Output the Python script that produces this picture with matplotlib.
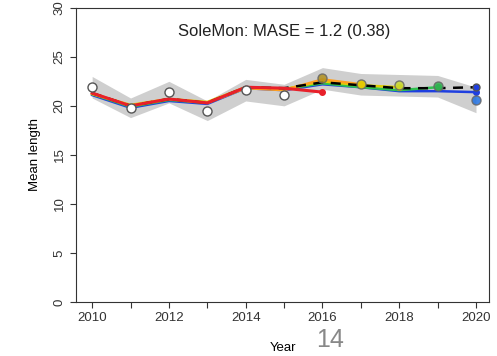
import numpy as np
import matplotlib
matplotlib.use("Agg")
import matplotlib.pyplot as plt

plt.rcParams["font.family"] = ["Liberation Sans", "DejaVu Sans"]

years = np.arange(2010, 2021)
obs = [21.9, 19.8, 21.4, 19.5, 21.6, 21.1, 22.8, 22.2, 22.1, 22.0, 20.6]
obs_se = [1.1, 1.0, 1.1, 1.0, 1.1, 1.1, 1.1, 1.1, 1.1, 1.1, 1.3]

# reference run expected values
ref = [21.3, 20.0, 20.7, 20.3, 21.9, 21.8, 22.4, 22.1, 21.8, 21.8, 21.9]

# retrospective peels: expected values from 2010 up to the predicted year
peel_vals = [
    [21.3, 20.0, 20.7, 20.3, 21.9, 21.8, 21.4],
    [21.3, 20.0, 20.7, 20.3, 21.8, 21.6, 22.7, 22.2],
    [21.2, 20.1, 20.7, 20.4, 21.9, 21.7, 22.5, 22.1, 21.9],
    [21.2, 19.9, 20.6, 20.3, 21.9, 21.7, 22.3, 21.9, 21.6, 21.9],
    [21.1, 19.8, 20.5, 20.2, 21.8, 21.6, 22.2, 21.9, 21.5, 21.5, 21.4],
]
peel_cols = ["#e8202a", "#ffa020", "#e0d000", "#30c050", "#1f3fe0"]
obs_cols = ["#b09020", "#e0d000", "#c8d830", "#30b050", "#1f6fe0"]

title = "SoleMon: MASE = 1.2 (0.38)"

fig = plt.figure(figsize=(4.97, 3.56), dpi=100)
ax = fig.add_axes([0.153, 0.152, 0.831, 0.826])

obs = np.array(obs)
se = np.array(obs_se)
ax.fill_between(years, obs - se, obs + se, color="#cfcfcf", lw=0, zorder=1)

# reference run: above the later peels, below the first one
ax.plot(years, ref, color="black", lw=1.8, ls=(0, (4, 3)), zorder=4.8)

for i in reversed(range(len(peel_vals))):
    vals = peel_vals[i]
    col = peel_cols[i]
    yrs = np.arange(2010, 2010 + len(vals))
    z = 5 if i == 0 else 4 + 0.1 * (5 - i)
    ax.plot(yrs, vals, color=col, lw=2.2 if i == 0 else 1.8, zorder=z)
    ax.plot(yrs[-1], vals[-1], "o", color=col, ms=4, zorder=6)

# observations
ax.plot(years[:6], obs[:6], "o", mfc="white", mec="#555555", ms=6.5, mew=1, zorder=7)
for i, col in enumerate(obs_cols):
    ax.plot(years[6 + i], obs[6 + i], "o", mfc=col, mec="#666666", ms=6.5, mew=1, zorder=7, alpha=0.85)
ax.plot(2020, 21.9, "o", mfc="#1f3fe0", mec="#555555", ms=5, zorder=7)

ax.text(2015.0, 27.6, title, ha="center", va="center", fontsize=12, color="#222222")

ax.set_xlim(2009.58, 2020.34)
ax.set_ylim(0, 30)
ax.set_xticks(years)
ax.set_xticklabels([str(y) if y % 2 == 0 else "" for y in years])
ax.set_yticks(range(0, 31, 5))
for lab in ax.get_yticklabels():
    lab.set_rotation(90)
    lab.set_va("center")
ax.tick_params(labelsize=9.5, length=4, direction="out", colors="#333333")
for s in ax.spines.values():
    s.set_color("#333333")
ax.set_xlabel("Year", fontsize=9.5, labelpad=13)
ax.set_ylabel("Mean length", fontsize=9.5, labelpad=9)

fig.text(0.665, 0.045, "14", fontsize=18, color="#888888", ha="center", va="center")

fig.savefig("out.png", dpi=100)
